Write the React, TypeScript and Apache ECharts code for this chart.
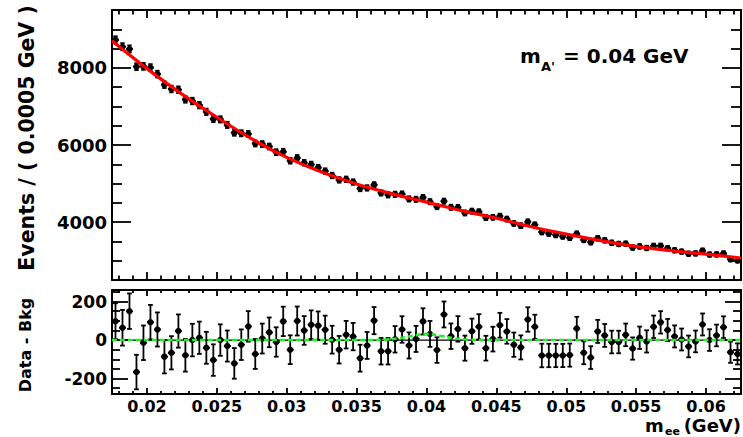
import React, { useEffect, useRef } from 'react';
import * as echarts from 'echarts';

// ---------------- data ----------------
const X_MIN = 0.0175;
const X_MAX = 0.0625;
const BIN_WIDTH = 0.0005;

const xMajorTicks = [0.02, 0.025, 0.03, 0.035, 0.04, 0.045, 0.05, 0.055, 0.06];
const xTickLabels = ['0.02', '0.025', '0.03', '0.035', '0.04', '0.045', '0.05', '0.055', '0.06'];
const xMinorTicks = [
  0.018, 0.019, 0.021, 0.022, 0.023, 0.024, 0.026, 0.027, 0.028, 0.029,
  0.031, 0.032, 0.033, 0.034, 0.036, 0.037, 0.038, 0.039, 0.041, 0.042,
  0.043, 0.044, 0.046, 0.047, 0.048, 0.049, 0.051, 0.052, 0.053, 0.054,
  0.056, 0.057, 0.058, 0.059, 0.061, 0.062,
];

const topYMajor = [4000, 6000, 8000];
const topYMinor = [3000, 3500, 4500, 5000, 5500, 6500, 7000, 7500, 8500, 9000];
const botYMajor = [-200, 0, 200];
const botYMinor = [-250, -150, -100, -50, 50, 100, 150, 250];

// events per 0.0005 GeV bin (90 bins, 0.0175 .. 0.0625)
const events = [
  8726, 8548, 8490, 8030, 8038, 8007, 7837, 7564, 7452, 7433,
  7181, 7140, 7032, 6860, 6676, 6664, 6521, 6319, 6304, 6287,
  6040, 6024, 5960, 5814, 5825, 5592, 5665, 5540, 5494, 5413,
  5323, 5209, 5095, 5111, 5039, 4871, 4887, 4966, 4757, 4707,
  4722, 4729, 4602, 4592, 4639, 4530, 4402, 4543, 4386, 4380,
  4238, 4286, 4269, 4118, 4125, 4155, 4079, 3966, 3908, 4009,
  3930, 3743, 3705, 3667, 3629, 3595, 3699, 3539, 3480, 3582,
  3529, 3465, 3435, 3442, 3341, 3371, 3330, 3384, 3385, 3323,
  3270, 3236, 3182, 3190, 3260, 3160, 3164, 3187, 3037, 3008,
];

// data - background per bin
const residuals = [
  98, 64, 150, -166, -14, 93, 55, -86, -66, 47,
  -79, 0, 12, -40, -104, 0, -31, -121, -24, 71,
  -72, 8, 40, -10, 97, -50, 99, 50, 80, 75,
  54, 2, -50, 28, 18, -94, -28, 101, -58, -58,
  4, 55, -28, 6, 97, 32, -52, 133, 20, 58,
  -42, 46, 69, -42, 5, 77, 45, -24, -38, 107,
  69, -80, -80, -80, -80, -78, 60, -66, -91, 45,
  24, -10, -10, 27, -44, 12, -7, 69, 92, 52,
  19, 3, -33, -7, 81, 0, 24, 67, -63, -72,
];

// background fit curve (red)
const fitX = [
  0.0175, 0.02, 0.0225, 0.025, 0.0275, 0.03, 0.0325, 0.035, 0.0375, 0.04,
  0.0425, 0.045, 0.0475, 0.05, 0.0525, 0.055, 0.0575, 0.06, 0.0625,
];
const fitY = [
  8700, 7980, 7320, 6720, 6160, 5680, 5300, 4990, 4740, 4520,
  4300, 4100, 3880, 3690, 3520, 3370, 3260, 3170, 3070,
];

// signal component in residual panel (green dashed)
const sigX = [0.0175, 0.036, 0.037, 0.038, 0.039, 0.04, 0.041, 0.042, 0.043, 0.044, 0.0625];
const sigY = [0, 0, 2, 9, 22, 32, 22, 9, 2, 0, 0];

// ---------------- helpers ----------------
const FONT = '"DejaVu Sans"';
const binCenters = events.map((_, i) => X_MIN + BIN_WIDTH * (i + 0.5));

function xAxesFor(grid: number, showLabels: boolean, major: number, minor: number) {
  const base: any = {
    type: 'value', gridIndex: grid, min: X_MIN, max: X_MAX,
    splitLine: { show: false }, axisPointer: { show: false },
  };
  const line = { show: true, onZero: false, lineStyle: { color: '#000', width: 2 } };
  const tickStyle = { color: '#000', width: 1.8 };
  return [
    {
      ...base, position: 'bottom', axisLine: line,
      axisTick: { show: true, inside: true, length: major, customValues: xMajorTicks, lineStyle: tickStyle },
      axisLabel: {
        show: showLabels, customValues: xMajorTicks, margin: 4,
        fontFamily: FONT, fontWeight: 'bold', fontSize: 16, color: '#000', lineHeight: 16,
        formatter: (v: number) => {
          const k = xMajorTicks.findIndex((t) => Math.abs(t - v) < 1e-7);
          return k >= 0 ? xTickLabels[k] : '';
        },
      },
    },
    {
      ...base, position: 'top', axisLine: line,
      axisTick: { show: true, inside: true, length: major, customValues: xMajorTicks, lineStyle: tickStyle },
      axisLabel: { show: false },
    },
    {
      ...base, position: 'bottom', axisLine: { show: false, onZero: false },
      axisTick: { show: true, inside: true, length: minor, customValues: xMinorTicks, lineStyle: tickStyle },
      axisLabel: { show: false },
    },
    {
      ...base, position: 'top', axisLine: { show: false, onZero: false },
      axisTick: { show: true, inside: true, length: minor, customValues: xMinorTicks, lineStyle: tickStyle },
      axisLabel: { show: false },
    },
  ];
}

function yAxesFor(grid: number, min: number, max: number, majors: number[], minors: number[],
  major: number, minor: number, fontSize: number) {
  const base: any = {
    type: 'value', gridIndex: grid, min, max,
    splitLine: { show: false }, axisPointer: { show: false },
  };
  const line = { show: true, onZero: false, lineStyle: { color: '#000', width: 2 } };
  const tickStyle = { color: '#000', width: 1.8 };
  return [
    {
      ...base, position: 'left', axisLine: line,
      axisTick: { show: true, inside: true, length: major, customValues: majors, lineStyle: tickStyle },
      axisLabel: {
        show: true, customValues: majors, margin: 5,
        fontFamily: FONT, fontWeight: 'bold', fontSize, color: '#000',
        formatter: (v: number) => String(Math.round(v)),
      },
    },
    {
      ...base, position: 'right', axisLine: line,
      axisTick: { show: true, inside: true, length: major, customValues: majors, lineStyle: tickStyle },
      axisLabel: { show: false },
    },
    {
      ...base, position: 'left', axisLine: { show: false, onZero: false },
      axisTick: { show: true, inside: true, length: minor, customValues: minors, lineStyle: tickStyle },
      axisLabel: { show: false },
    },
    {
      ...base, position: 'right', axisLine: { show: false, onZero: false },
      axisTick: { show: true, inside: true, length: minor, customValues: minors, lineStyle: tickStyle },
      axisLabel: { show: false },
    },
  ];
}

function makeErrRender(capHalf: number, xBars: boolean) {
  return (params: any, api: any) => {
    const x = api.value(0);
    const y = api.value(1);
    const e = api.value(2);
    const c = api.coord([x, y]);
    const t = api.coord([x, y + e]);
    const b = api.coord([x, y - e]);
    const l = api.coord([x - BIN_WIDTH / 2, y]);
    const r = api.coord([x + BIN_WIDTH / 2, y]);
    const st = { stroke: '#000', lineWidth: 1.8 };
    const children: any[] = [
      { type: 'line', shape: { x1: c[0], y1: t[1], x2: c[0], y2: b[1] }, style: st },
      { type: 'line', shape: { x1: c[0] - capHalf, y1: t[1], x2: c[0] + capHalf, y2: t[1] }, style: st },
      { type: 'line', shape: { x1: c[0] - capHalf, y1: b[1], x2: c[0] + capHalf, y2: b[1] }, style: st },
    ];
    if (xBars) {
      children.push({ type: 'line', shape: { x1: l[0], y1: c[1], x2: r[0], y2: c[1] }, style: st });
    }
    children.push({ type: 'circle', shape: { cx: c[0], cy: c[1], r: 3.2 }, style: { fill: '#000' } });
    return { type: 'group', children };
  };
}

function txt(x: number, y: number, text: string, size: number, align: string, rotation = 0) {
  return {
    type: 'text', x, y, rotation,
    style: {
      text, font: `bold ${size}px ${FONT}`, fill: '#000', lineHeight: size,
      align, verticalAlign: 'middle', textAlign: align, textVerticalAlign: 'middle',
    },
  };
}

export default function App() {
  const ref = useRef<HTMLDivElement>(null);

  useEffect(() => {
    if (!ref.current) return;
    const chart = echarts.init(ref.current, null, { renderer: 'svg' });

    const topData = events.map((v, i) => [binCenters[i], v, Math.sqrt(v)]);
    const botData = residuals.map((v, i) => [binCenters[i], v, Math.sqrt(events[i])]);

    const option: any = {
      animation: false,
      backgroundColor: '#fff',
      grid: [
        { left: 112, top: 10, width: 629, height: 270 },
        { left: 112, top: 290, width: 629, height: 104 },
      ],
      xAxis: [...xAxesFor(0, false, 8, 4.5), ...xAxesFor(1, true, 6, 3)],
      yAxis: [
        ...yAxesFor(0, 2500, 9500, topYMajor, topYMinor, 19, 10, 18),
        ...yAxesFor(1, -280, 260, botYMajor, botYMinor, 16, 8, 17),
      ],
      series: [
        {
          type: 'custom', name: 'data', xAxisIndex: 0, yAxisIndex: 0,
          renderItem: makeErrRender(2.2, true), data: topData, clip: true,
        },
        {
          type: 'line', name: 'fit', xAxisIndex: 0, yAxisIndex: 0,
          data: fitX.map((x, i) => [x, fitY[i]]), smooth: 0.4, symbol: 'none',
          lineStyle: { color: '#ff0000', width: 3.2 },
        },
        {
          type: 'line', name: 'zero', xAxisIndex: 4, yAxisIndex: 4,
          data: [[X_MIN, 0], [X_MAX, 0]], symbol: 'none',
          lineStyle: { color: '#000', width: 1.2 },
        },
        {
          type: 'line', name: 'signal', xAxisIndex: 4, yAxisIndex: 4,
          data: sigX.map((x, i) => [x, sigY[i]]), smooth: 0.4, symbol: 'none',
          lineStyle: { color: '#22ee22', width: 2.6, type: [5, 3] },
        },
        {
          type: 'custom', name: 'resid', xAxisIndex: 4, yAxisIndex: 4,
          renderItem: makeErrRender(2.4, true), data: botData, clip: true,
        },
      ],
      graphic: [
        txt(27, 138, 'Events / ( 0.0005 GeV )', 20.5, 'center', Math.PI / 2),
        txt(25, 345, 'Data - Bkg', 16, 'center', Math.PI / 2),
        txt(520, 56, 'm', 20, 'left'),
        txt(541, 66, "A'", 13, 'left'),
        txt(563, 56, '= 0.04 GeV', 20, 'left'),
        txt(645, 425, 'm', 18, 'left'),
        txt(665, 431, 'ee', 11, 'left'),
        txt(741, 425, '(GeV)', 18, 'right'),
      ],
    };

    chart.setOption(option);
    return () => chart.dispose();
  }, []);

  return (
    <div
      ref={ref}
      style={{ position: 'absolute', left: 0, top: 0, width: 743, height: 437, background: '#fff' }}
    />
  );
}
